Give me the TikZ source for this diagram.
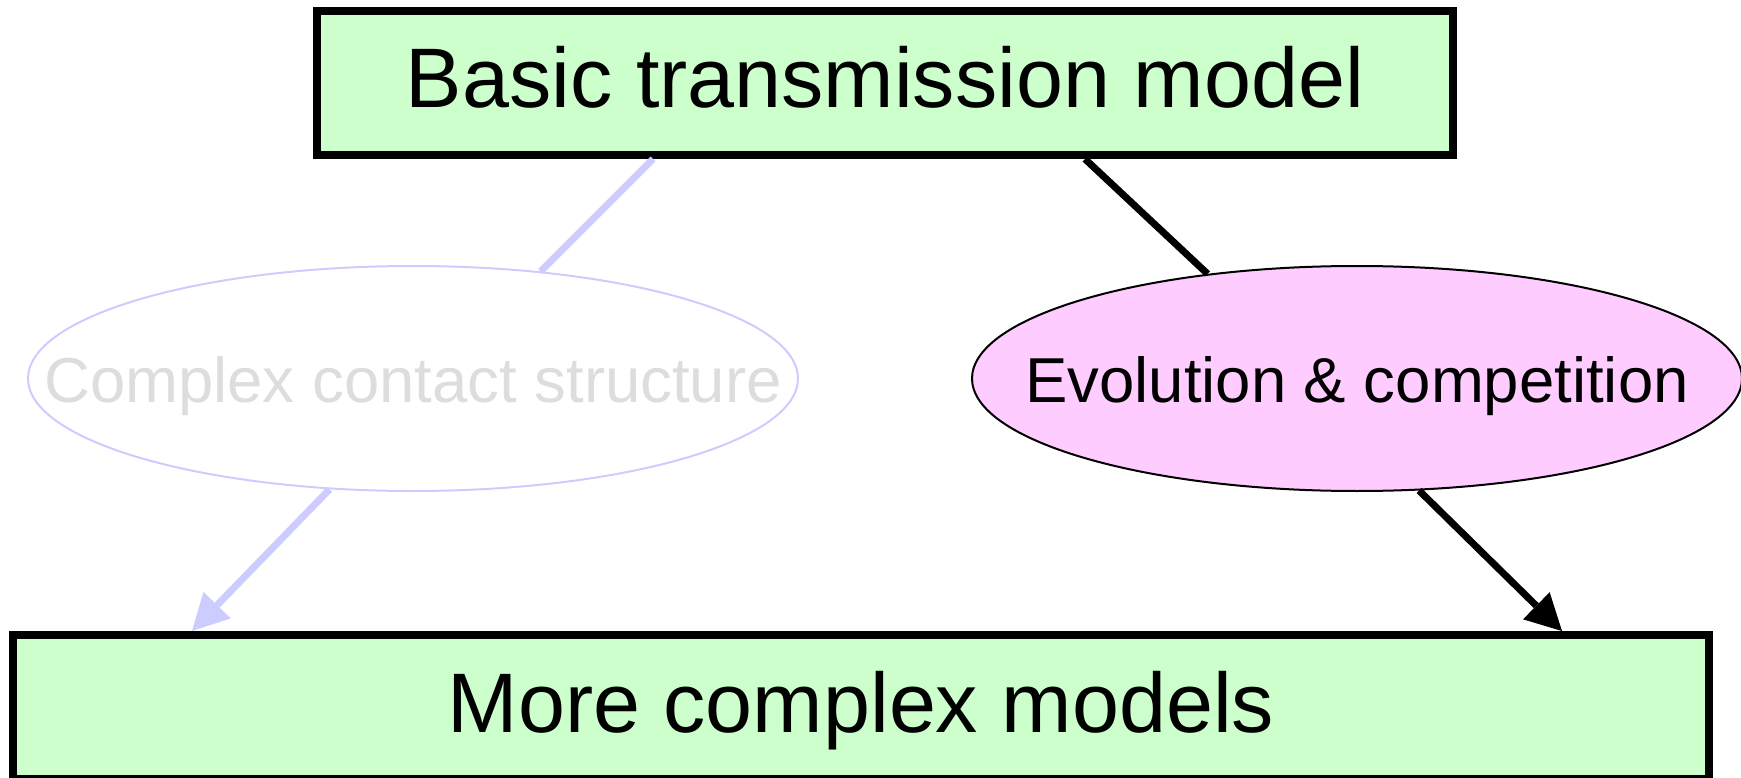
\documentclass[tikz,border=0pt]{standalone}
\usepackage{fontspec}
\setmainfont{Liberation Sans}
\usetikzlibrary{arrows.meta, shapes.geometric}
\definecolor{modelgreen}{HTML}{CCFFCC}
\definecolor{evopink}{HTML}{FFCCFF}
\definecolor{faintblue}{HTML}{CCCCFF}
\definecolor{faintgrey}{HTML}{DDDDDD}
\newcommand{\bigtxt}{\fontsize{84.5}{100}\selectfont}
\newcommand{\midtxt}{\fontsize{63.5}{76}\selectfont}

\begin{document}
\begin{tikzpicture}[
    x=1pt, y=-1pt,
    model/.style = {rectangle, draw, fill=modelgreen, line width=8pt, inner sep=0pt,
      minimum height=144pt, text height=63pt, text depth=13pt, font=\bigtxt},
    topic/.style = {ellipse, draw, line width=2pt, inner sep=0pt, minimum width=770pt,
      minimum height=225pt, text height=48pt, text depth=0pt, font=\midtxt},
    lin/.style = {line width=7pt},
    pil/.style = {lin, -{Triangle[length=36pt, width=38pt, line width=0pt]}}
    ]
  \useasboundingbox (0,0) rectangle (1741,778);

  \node[model, minimum width=1136pt] (basic) at (885,83) {Basic transmission model};
  \node[topic, faintblue, text=faintgrey] (contact) at (413,378.5) {\makebox[0pt]{Complex contact structure}};
  \node[topic, fill=evopink] (evo) at (1357,378.5) {\makebox[0pt]{Evolution \& competition}};
  \node[model, minimum width=1696pt] (more) at (861,707) {More complex models};

  \draw[lin, faintblue] ([xshift=-232pt]basic.south) -- (contact.40.6);
  \draw[pil, faintblue] (contact.233.8) -- ([xshift=-669pt]more.north);
  \draw[lin] ([xshift=200pt]basic.south) -- (evo.145.6);
  \draw[pil] (evo.299.7) -- ([xshift=701pt]more.north);

\end{tikzpicture}
\end{document}
